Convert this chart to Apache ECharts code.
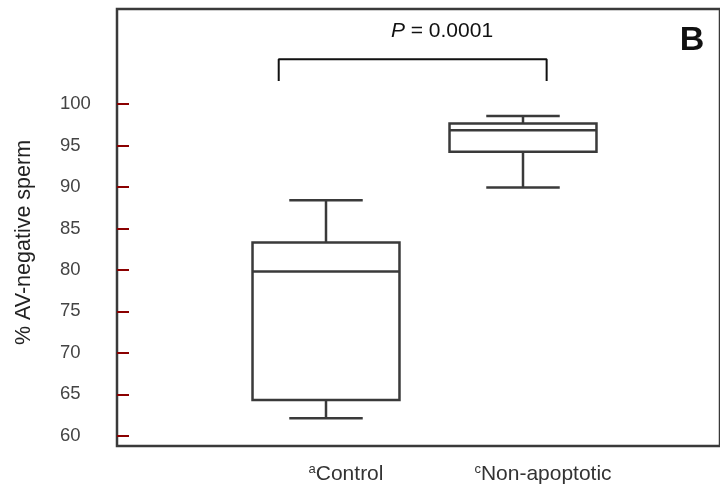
<!DOCTYPE html>
<html>
<head>
<meta charset="utf-8">
<script src="https://cdn.jsdelivr.net/npm/echarts@6/dist/echarts.min.js"></script>
<style>
  html, body { margin: 0; padding: 0; background: #fff; }
</style>
</head>
<body>
<div id="chart" style="width:720px;height:490px;"></div>
<script>
// groups and their superscript marks
var categories = ['Control', 'Non-apoptotic']
var marks = ['a', 'c']
// box statistics
var lowWhisker = [62.1, 89.95]
var q1 = [64.3, 94.25]
var median = [79.8, 96.85]
var q3 = [83.3, 97.65]
var highWhisker = [88.4, 98.55]
// y tick labels
var yTicks = [60, 65, 70, 75, 80, 85, 90, 95, 100]
// significance bracket (x in category units, y in %)
var bracketX = [-0.24, -0.24, 1.12, 1.12]
var bracketY = [102.8, 105.4, 105.4, 102.8]
var pText = '0.0001'

var FONT = '"Liberation Sans", Arial, sans-serif'
var LINE = '#3a3a3a'

var boxData = categories.map(function (c, i) {
	return [i, lowWhisker[i], q1[i], median[i], q3[i], highWhisker[i]]
})
var bracketData = bracketX.map(function (x, i) {
	return [x, bracketY[i]]
})

function renderBox(params, api) {
	var idx = api.value(0)
	var band = api.size([1, 0])[0]
	var half = band * 0.373
	var cap = half / 2
	var lo = api.coord([idx, api.value(1)])
	var b1 = api.coord([idx, api.value(2)])
	var md = api.coord([idx, api.value(3)])
	var b3 = api.coord([idx, api.value(4)])
	var hi = api.coord([idx, api.value(5)])
	var x = lo[0]
	var st = { stroke: LINE, lineWidth: 2.5, fill: null }
	var seg = function (x1, y1, x2, y2) {
		return { type: 'line', shape: { x1: x1, y1: y1, x2: x2, y2: y2 }, style: st }
	}
	return {
		type: 'group',
		children: [
			{ type: 'rect', shape: { x: x - half, y: b3[1], width: half * 2, height: b1[1] - b3[1] }, style: { stroke: LINE, lineWidth: 2.5, fill: 'none' } },
			seg(x - half, md[1], x + half, md[1]),
			seg(x, b3[1], x, hi[1]),
			seg(x, b1[1], x, lo[1]),
			seg(x - cap, hi[1], x + cap, hi[1]),
			seg(x - cap, lo[1], x + cap, lo[1])
		]
	}
}

var myChart = echarts.init(document.getElementById('chart'))
myChart.setOption({
	animation: false,
	backgroundColor: '#fff',
	grid: [{
		left: 227.5,
		right: 98.5,
		top: 9,
		bottom: 44
	}, {
		left: 117,
		right: -20,
		top: 9,
		bottom: 44,
		show: true,
		borderColor: LINE,
		borderWidth: 2.5,
		backgroundColor: 'transparent'
	}],
	xAxis: [{
		type: 'category',
		gridIndex: 0,
		data: categories,
		axisLine: { show: false, onZero: false },
		axisTick: { show: false },
		axisLabel: {
			margin: 17,
			padding: [0, 0, 0, 40],
			formatter: function (v, i) {
				return '{sup|' + marks[i] + '}{t|' + v + '}'
			},
			rich: {
				t: { fontFamily: FONT, fontSize: 21, color: '#333' },
				sup: { fontFamily: FONT, fontSize: 13, color: '#333', verticalAlign: 'top', padding: [0, 0, 10, 0] }
			}
		}
	}, {
		type: 'value',
		gridIndex: 0,
		min: -0.5,
		max: 1.5,
		show: false
	}, {
		type: 'value',
		gridIndex: 1,
		show: false
	}],
	yAxis: [{
		type: 'value',
		gridIndex: 0,
		min: 58.76,
		max: 111.47,
		offset: 110.5,
		name: '% AV-negative sperm',
		nameLocation: 'middle',
		nameGap: 82,
		nameTextStyle: { fontFamily: FONT, fontSize: 21.5, color: '#222', padding: [0, 30, 0, 0] },
		splitLine: { show: false },
		axisLine: { show: false, onZero: false },
		axisTick: {
			inside: true,
			length: 12,
			customValues: yTicks,
			lineStyle: { color: '#8b0000', width: 2 }
		},
		axisLabel: {
			customValues: yTicks,
			align: 'left',
			margin: 57,
			fontFamily: FONT,
			fontSize: 18.5,
			color: '#444'
		}
	}, {
		type: 'value',
		gridIndex: 1,
		show: false
	}],
	graphic: [{
		type: 'text',
		x: 442,
		y: 31,
		style: {
			text: '{i|P} = ' + pText,
			align: 'center',
			verticalAlign: 'middle',
			font: '21px ' + FONT,
			fill: '#111',
			rich: {
				i: { fontFamily: FONT, fontSize: 21, fontStyle: 'italic', fill: '#111' }
			}
		}
	}, {
		type: 'text',
		x: 692,
		y: 41,
		style: {
			text: 'B',
			align: 'center',
			verticalAlign: 'middle',
			font: 'bold 34px ' + FONT,
			fill: '#111'
		}
	}],
	series: [{
		type: 'custom',
		xAxisIndex: 0,
		yAxisIndex: 0,
		renderItem: renderBox,
		encode: { x: 0, y: [1, 2, 3, 4, 5] },
		data: boxData
	}, {
		type: 'line',
		xAxisIndex: 1,
		yAxisIndex: 0,
		symbol: 'none',
		lineStyle: { color: '#111', width: 2 },
		data: bracketData
	}]
})
</script>
</body>
</html>
